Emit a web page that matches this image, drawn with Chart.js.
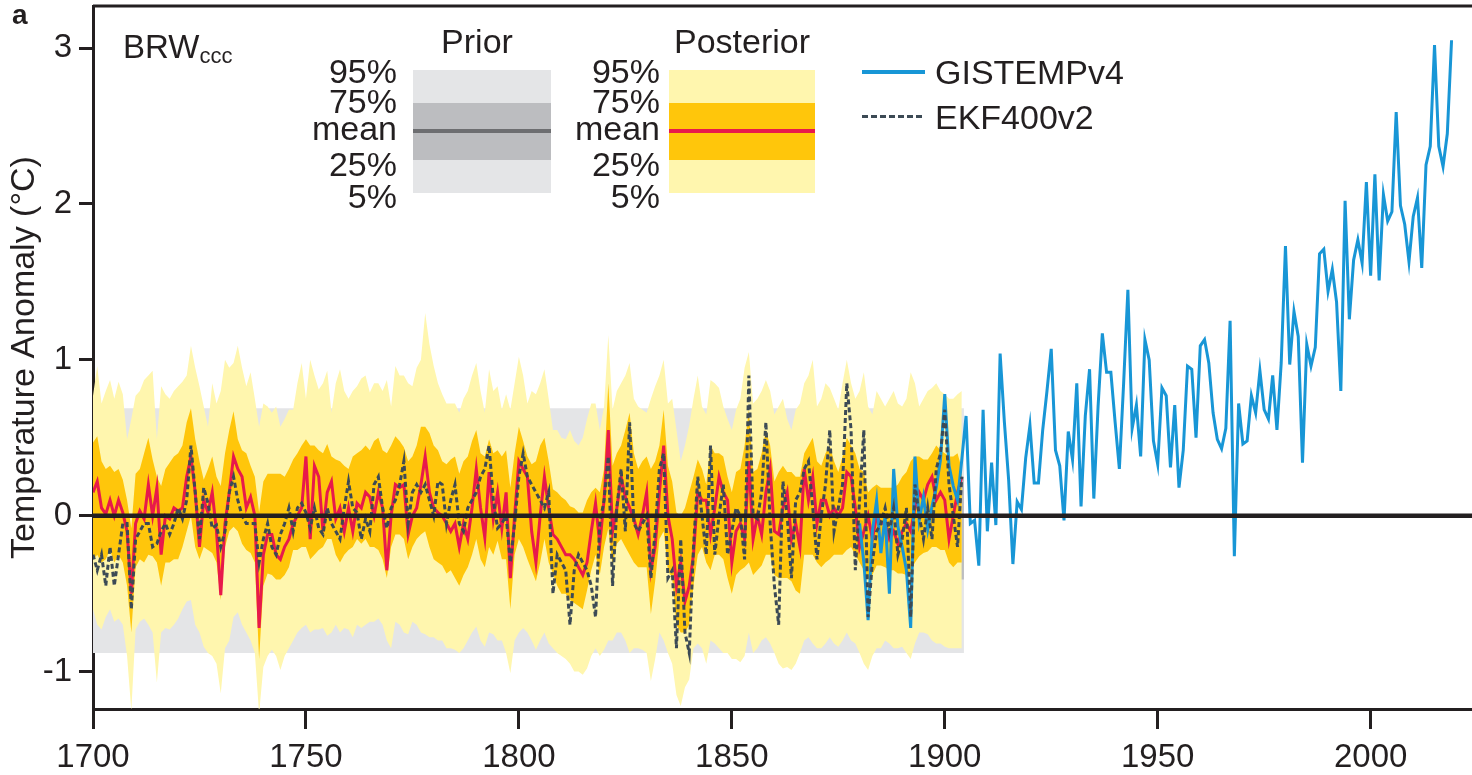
<!DOCTYPE html>
<html lang="en">
<head>
<meta charset="UTF-8">
<title>BRW temperature anomaly</title>
<script src="https://cdn.jsdelivr.net/npm/chart.js@4"></script>
<style>
    html, body { margin: 0; padding: 0; background: #fff; }
    #wrap { position: relative; width: 1472px; height: 775px; font-family: 'Liberation Sans', Arial, sans-serif; color: #231f20; }
    #chart { position: absolute; left: 0; top: 0; }
    .t { position: absolute; white-space: nowrap; line-height: 1; font-size: 34px; }
    .r { text-align: right; width: 100px; }
    .c { text-align: center; }
    .box { position: absolute; }
</style>
</head>
<body>
<div id="wrap">
    <canvas id="chart" width="1472" height="775"></canvas>

    <div class="t" style="left:12px; top:1px; font-size:28px; font-weight:bold;">a</div>
    <div class="t" style="left:123px; top:30px; font-size:33px;">BRW<span style="font-size:22px; vertical-align:-5px;">ccc</span></div>

    <!-- prior legend -->
    <div class="t c" style="left:427px; top:24px; width:100px;">Prior</div>
    <div class="box" style="left:413px; top:70px; width:138px; height:123px; background:#e4e5e7;"></div>
    <div class="box" style="left:413px; top:103px; width:138px; height:57px; background:#bcbdc0;"></div>
    <div class="box" style="left:413px; top:129px; width:138px; height:4px; background:#6d6e71;"></div>
    <div class="t r" style="left:297px; top:54px;">95%</div>
    <div class="t r" style="left:297px; top:84px;">75%</div>
    <div class="t r" style="left:297px; top:111px;">mean</div>
    <div class="t r" style="left:297px; top:147px;">25%</div>
    <div class="t r" style="left:297px; top:179px;">5%</div>

    <!-- posterior legend -->
    <div class="t c" style="left:667px; top:24px; width:150px;">Posterior</div>
    <div class="box" style="left:669px; top:70px; width:146px; height:123px; background:#fff6ae;"></div>
    <div class="box" style="left:669px; top:103px; width:146px; height:57px; background:#ffc60b;"></div>
    <div class="box" style="left:669px; top:129px; width:146px; height:4px; background:#e8194b;"></div>
    <div class="t r" style="left:560px; top:54px;">95%</div>
    <div class="t r" style="left:560px; top:84px;">75%</div>
    <div class="t r" style="left:560px; top:111px;">mean</div>
    <div class="t r" style="left:560px; top:147px;">25%</div>
    <div class="t r" style="left:560px; top:179px;">5%</div>

    <!-- series legend -->
    <div class="box" style="left:862px; top:70px; width:63px; height:4px; background:#1896d6;"></div>
    <div class="t" style="left:935px; top:55px;">GISTEMPv4</div>
    <div class="box" style="left:862px; top:115px; width:63px; height:3px; background:repeating-linear-gradient(to right, #3c4a55 0 6px, transparent 6px 9px);"></div>
    <div class="t" style="left:935px; top:100px;">EKF400v2</div>
</div>

<script>
// --- DATA ---
const POST_START = 1700;   // posterior / EKF400v2 first year
const GIS_START = 1880;    // GISTEMPv4 first year
const xTicks = [1700, 1750, 1800, 1850, 1900, 1950, 2000];
const yTicks = [-1, 0, 1, 2, 3];

// prior band (constant), years it spans
const priorYears = [1700, 1904.5];
const prior5 = -0.88, prior25 = -0.41, prior75 = 0.25, prior95 = 0.69;

const postMean = [
    0.15,0.22,0.05,0.01,0.10,0.00,0.10,0.02,-0.10,-0.50,
    -0.05,0.03,-0.02,0.20,0.00,0.18,-0.25,0.00,-0.02,0.05,
    0.03,0.05,0.25,0.38,0.15,-0.20,0.10,0.02,0.15,-0.10,
    -0.51,-0.05,0.15,0.38,0.30,0.25,0.05,0.12,0.00,-0.72,
    -0.25,-0.12,-0.12,-0.25,-0.28,-0.20,-0.15,-0.05,0.00,0.05,
    0.38,-0.15,0.32,0.25,-0.10,0.15,0.22,-0.02,0.05,-0.10,
    0.05,-0.10,0.08,0.05,0.15,0.12,0.00,0.15,0.05,-0.35,
    0.00,0.20,0.18,0.20,-0.12,0.00,0.05,0.20,0.38,0.15,
    0.05,0.02,0.00,-0.05,-0.10,-0.05,-0.20,-0.05,-0.15,0.05,
    0.30,0.05,-0.14,0.28,-0.02,0.15,-0.08,0.15,-0.40,0.00,
    0.35,0.30,0.25,-0.10,-0.30,0.00,0.25,0.05,-0.12,-0.15,
    -0.20,-0.25,-0.25,-0.28,-0.33,-0.38,-0.30,-0.10,0.08,-0.18,
    0.10,0.55,-0.10,0.05,0.25,0.12,0.05,-0.02,-0.12,0.00,
    0.15,-0.35,-0.20,0.15,0.45,0.00,-0.15,-0.45,-0.30,-0.55,
    -0.45,-0.25,0.15,0.10,0.10,-0.12,0.05,0.25,0.15,0.10,
    -0.30,-0.10,-0.05,-0.15,0.35,-0.15,0.00,-0.12,0.15,0.30,
    -0.10,-0.12,0.05,0.15,-0.15,-0.05,-0.20,0.30,0.10,0.25,
    -0.05,0.10,0.10,0.00,0.05,0.00,0.05,0.28,0.25,0.05,
    -0.20,-0.10,0.00,-0.15,0.00,-0.05,-0.05,-0.15,-0.10,-0.18,
    -0.10,-0.05,-0.10,0.05,0.15,0.10,0.20,0.25,0.10,0.15,
    0.10,-0.15,0.00,0.15,0.25
];

const post95 = [
    0.77,0.96,0.72,0.80,0.87,0.75,0.86,0.78,0.49,0.62,
    0.77,0.80,0.87,0.90,0.93,0.49,0.83,0.78,0.75,0.80,
    0.83,0.86,0.90,1.09,0.95,0.83,0.70,0.57,0.85,0.72,
    0.80,1.00,0.95,0.98,1.09,0.95,0.83,0.92,0.75,0.57,
    0.72,0.70,0.66,0.70,0.57,0.62,0.68,0.68,0.85,0.98,
    0.75,1.00,0.90,0.81,0.85,0.93,0.66,0.85,0.94,0.80,
    0.75,0.80,0.83,0.88,0.90,0.79,0.85,0.85,0.80,0.87,
    0.70,0.96,0.90,0.90,0.85,0.83,0.95,1.00,1.30,1.10,
    0.96,0.85,0.78,0.72,0.72,0.72,0.66,0.75,0.80,0.90,
    0.98,0.80,0.66,0.94,0.80,0.83,0.68,0.78,0.68,0.85,
    1.02,0.90,0.72,0.80,0.78,0.85,0.94,0.75,0.55,0.55,
    0.50,0.49,0.55,0.48,0.45,0.50,0.62,0.72,0.72,0.55,
    0.70,1.16,0.68,0.80,0.85,0.90,0.98,0.75,0.70,0.68,
    0.66,0.75,0.83,0.90,1.00,0.72,0.75,0.55,0.35,0.45,
    0.58,0.75,0.90,0.70,0.65,0.87,0.85,0.82,0.70,0.62,
    0.55,0.68,0.75,0.95,1.05,0.72,0.75,0.80,0.87,0.80,
    0.65,0.70,0.75,0.62,0.55,0.68,0.72,0.85,0.90,1.00,
    0.70,0.75,0.85,0.82,0.75,0.68,0.85,1.00,0.85,0.75,
    0.80,0.92,0.70,0.65,0.80,0.75,0.70,0.75,0.80,0.72,
    0.70,0.75,0.92,0.85,0.70,0.75,0.80,0.82,0.85,0.80,
    0.78,0.75,0.75,0.78,0.80
];

const post75 = [
    0.47,0.51,0.35,0.30,0.32,0.28,0.30,0.23,0.10,-0.08,
    0.27,0.30,0.40,0.50,0.36,0.25,0.19,0.30,0.34,0.38,
    0.40,0.45,0.60,0.69,0.49,0.35,0.23,0.30,0.38,0.25,
    0.19,0.40,0.55,0.67,0.49,0.42,0.40,0.32,0.25,0.02,
    0.22,0.27,0.27,0.27,0.27,0.25,0.30,0.36,0.40,0.45,
    0.49,0.45,0.45,0.42,0.40,0.46,0.38,0.36,0.35,0.32,
    0.30,0.38,0.40,0.42,0.45,0.42,0.48,0.50,0.42,0.40,
    0.45,0.51,0.48,0.44,0.35,0.38,0.45,0.57,0.57,0.53,
    0.45,0.42,0.35,0.33,0.36,0.38,0.27,0.35,0.38,0.48,
    0.55,0.40,0.38,0.49,0.40,0.42,0.38,0.42,0.18,0.40,
    0.57,0.48,0.38,0.33,0.35,0.45,0.50,0.35,0.17,0.15,
    0.12,0.10,0.06,0.05,0.02,0.02,0.10,0.15,0.18,0.15,
    0.30,0.85,0.32,0.40,0.45,0.55,0.66,0.40,0.30,0.35,
    0.38,0.30,0.35,0.45,0.68,0.32,0.22,0.02,0.00,0.05,
    0.15,0.25,0.36,0.30,0.20,0.45,0.40,0.40,0.38,0.25,
    0.15,0.28,0.30,0.45,0.68,0.28,0.30,0.40,0.55,0.45,
    0.22,0.28,0.32,0.28,0.28,0.25,0.25,0.40,0.45,0.50,
    0.35,0.32,0.40,0.45,0.35,0.28,0.38,0.50,0.45,0.40,
    0.30,0.28,0.15,0.18,0.20,0.18,0.18,0.18,0.18,0.20,
    0.25,0.28,0.35,0.38,0.38,0.36,0.36,0.40,0.45,0.42,
    0.40,0.38,0.38,0.40,0.30
];

const post25 = [
    -0.28,-0.25,-0.30,-0.28,-0.22,-0.30,-0.25,-0.30,-0.45,-0.75,
    -0.33,-0.28,-0.30,-0.25,-0.26,-0.30,-0.45,-0.30,-0.30,-0.28,
    -0.28,-0.20,-0.10,0.00,-0.20,-0.28,-0.20,-0.22,-0.24,-0.30,
    -0.54,-0.20,-0.10,-0.07,-0.10,-0.18,-0.22,-0.24,-0.30,-0.92,
    -0.45,-0.37,-0.38,-0.41,-0.41,-0.38,-0.33,-0.22,-0.22,-0.20,
    -0.20,-0.28,-0.25,-0.22,-0.20,-0.15,-0.15,-0.25,-0.30,-0.25,
    -0.22,-0.20,-0.15,-0.18,-0.15,-0.20,-0.20,-0.22,-0.28,-0.40,
    -0.20,-0.12,-0.12,-0.15,-0.28,-0.20,-0.15,-0.12,-0.10,-0.20,
    -0.28,-0.30,-0.32,-0.37,-0.35,-0.40,-0.45,-0.38,-0.33,-0.25,
    -0.15,-0.28,-0.33,-0.20,-0.25,-0.16,-0.28,-0.28,-0.60,-0.25,
    -0.15,-0.20,-0.28,-0.35,-0.42,-0.30,-0.15,-0.30,-0.37,-0.45,
    -0.50,-0.50,-0.54,-0.56,-0.58,-0.60,-0.48,-0.35,-0.25,-0.38,
    -0.20,-0.08,-0.32,-0.18,-0.15,-0.20,-0.25,-0.30,-0.33,-0.33,
    -0.33,-0.63,-0.42,-0.15,-0.10,-0.35,-0.40,-0.70,-0.75,-0.75,
    -0.70,-0.45,-0.25,-0.20,-0.30,-0.35,-0.25,-0.25,-0.28,-0.40,
    -0.50,-0.38,-0.35,-0.33,-0.30,-0.38,-0.35,-0.32,-0.25,-0.25,
    -0.38,-0.40,-0.40,-0.40,-0.42,-0.48,-0.50,-0.25,-0.25,-0.25,
    -0.30,-0.33,-0.30,-0.28,-0.25,-0.25,-0.25,-0.22,-0.20,-0.25,
    -0.30,-0.35,-0.40,-0.38,-0.32,-0.32,-0.33,-0.35,-0.35,-0.37,
    -0.37,-0.38,-0.35,-0.30,-0.26,-0.24,-0.23,-0.20,-0.20,-0.22,
    -0.22,-0.30,-0.33,-0.30,-0.30
];

const post5 = [
    -0.60,-0.70,-0.73,-0.65,-0.60,-0.68,-0.66,-0.70,-0.90,-1.25,
    -0.73,-0.68,-0.66,-0.70,-0.75,-1.07,-0.75,-0.72,-0.73,-0.70,
    -0.66,-0.60,-0.55,-0.54,-0.70,-0.75,-0.84,-0.88,-0.90,-0.95,
    -1.14,-0.85,-0.80,-0.65,-0.62,-0.70,-0.75,-0.80,-0.88,-1.27,
    -0.97,-0.90,-0.86,-0.90,-0.99,-0.90,-0.85,-0.80,-0.75,-0.72,
    -0.70,-0.75,-0.73,-0.73,-0.72,-0.77,-0.75,-0.70,-0.75,-0.72,
    -0.73,-0.78,-0.70,-0.72,-0.70,-0.68,-0.68,-0.66,-0.70,-0.80,
    -0.85,-0.68,-0.70,-0.75,-0.76,-0.68,-0.70,-0.75,-0.76,-0.78,
    -0.78,-0.80,-0.80,-0.85,-0.85,-0.86,-0.88,-0.85,-0.80,-0.75,
    -0.71,-0.80,-0.84,-0.75,-0.76,-0.80,-0.80,-0.88,-1.01,-0.80,
    -0.75,-0.72,-0.75,-0.80,-0.86,-0.80,-0.75,-0.82,-0.85,-0.88,
    -0.90,-0.92,-0.95,-1.00,-1.00,-1.02,-0.98,-0.90,-0.85,-0.90,
    -0.86,-0.80,-0.80,-0.75,-0.75,-0.80,-0.88,-0.85,-0.85,-0.86,
    -0.88,-1.06,-0.92,-0.75,-0.80,-0.88,-0.95,-1.15,-1.22,-1.10,
    -1.05,-0.85,-0.82,-0.85,-0.95,-0.80,-0.82,-0.85,-0.88,-0.88,
    -0.92,-0.92,-0.94,-0.90,-0.75,-0.88,-0.85,-0.80,-0.78,-0.82,
    -0.88,-0.95,-0.98,-0.97,-0.99,-0.95,-0.88,-0.80,-0.78,-0.82,
    -0.85,-0.85,-0.82,-0.78,-0.82,-0.84,-0.80,-0.75,-0.80,-0.82,
    -0.88,-0.95,-0.99,-0.90,-0.85,-0.85,-0.80,-0.82,-0.85,-0.85,
    -0.84,-0.88,-0.92,-0.82,-0.75,-0.75,-0.76,-0.80,-0.82,-0.82,
    -0.84,-0.85,-0.85,-0.85,-0.85
];

const ekf400 = [
    -0.25,-0.35,-0.25,-0.45,-0.20,-0.45,-0.25,-0.05,-0.05,-0.60,
    -0.15,-0.10,-0.05,-0.05,-0.20,-0.18,-0.10,-0.05,-0.12,-0.05,
    0.05,-0.02,0.10,0.45,0.15,-0.15,0.18,0.08,-0.08,-0.06,
    -0.20,-0.10,0.15,0.25,0.10,0.00,-0.05,-0.05,-0.05,-0.30,
    -0.15,-0.05,-0.20,-0.25,-0.12,-0.05,0.05,-0.10,0.05,0.08,
    0.02,-0.08,0.05,-0.08,-0.12,0.05,-0.05,-0.10,-0.15,0.05,
    0.22,0.05,0.02,-0.15,-0.02,-0.10,0.20,0.25,0.05,-0.08,
    0.05,0.10,0.20,0.35,-0.05,0.15,0.20,0.15,0.20,0.10,
    0.00,0.22,0.20,-0.05,0.10,0.20,-0.05,-0.10,0.05,0.10,
    0.15,0.25,0.30,0.45,0.10,-0.08,-0.05,0.00,-0.30,-0.05,
    0.25,0.40,0.25,0.20,0.15,0.10,0.05,0.15,-0.50,-0.25,
    -0.30,-0.35,-0.70,-0.35,-0.25,-0.30,-0.35,-0.45,-0.65,-0.05,
    0.10,0.38,-0.45,0.05,0.30,-0.10,0.60,-0.05,-0.10,-0.05,
    0.00,-0.40,-0.10,0.30,0.40,-0.40,-0.35,-0.85,-0.15,-0.75,
    -0.88,-0.20,0.25,0.00,-0.25,0.45,-0.25,0.00,0.20,-0.25,
    -0.10,0.05,0.00,-0.28,0.90,0.00,-0.02,0.15,0.60,-0.05,
    -0.45,-0.70,0.22,0.00,-0.40,0.10,0.15,0.30,0.35,0.05,
    -0.28,0.00,0.20,0.55,-0.10,0.05,0.20,0.85,0.55,-0.35,
    0.10,0.55,-0.65,-0.30,-0.10,-0.05,0.05,-0.10,0.05,-0.25,
    -0.15,0.05,-0.65,0.20,0.00,-0.15,0.05,-0.15,0.30,0.40,
    0.68,0.20,0.00,-0.20,0.25
];

const gistemp = [
    -0.05,-0.30,-0.67,-0.10,0.10,-0.24,0.00,-0.50,0.30,-0.07,
    -0.20,-0.35,-0.72,0.38,-0.03,0.12,-0.09,0.06,0.18,0.36,
    0.78,0.32,0.19,0.10,0.36,0.64,-0.05,-0.03,-0.32,0.68,
    -0.10,0.34,-0.06,1.04,0.60,0.23,-0.31,0.09,0.04,0.37,
    0.58,0.21,0.21,0.55,0.80,1.07,0.42,0.32,-0.03,0.54,
    0.36,0.85,0.06,0.64,0.94,0.11,0.70,1.17,0.92,0.92,
    0.60,0.30,0.85,1.45,0.56,0.71,0.38,1.13,1.00,0.48,
    0.33,0.82,0.77,0.31,0.71,0.18,0.42,0.96,0.94,0.50,
    1.09,1.13,0.98,0.66,0.49,0.43,0.56,1.25,-0.26,0.72,
    0.46,0.48,0.77,0.66,0.93,0.68,0.62,0.90,0.55,0.98,
    1.73,0.97,1.31,1.15,0.34,1.10,0.96,1.08,1.68,1.71,
    1.44,1.58,1.37,0.80,2.02,1.26,1.64,1.77,1.62,2.14,
    1.54,2.19,1.51,2.06,1.89,1.95,2.59,1.99,1.87,1.63,
    1.92,2.04,1.59,2.25,2.37,3.02,2.37,2.24,2.45,3.05
];

// --- HELPERS ---
function toXY(values, startYear) {
    return values.map((v, i) => ({ x: startYear + i, y: v }));
}
function flat(value) {
    return priorYears.map(yr => ({ x: yr, y: value }));
}
function area(data, fill, bg, order) {
    return { data, fill, backgroundColor: bg, borderWidth: 0, pointRadius: 0, order };
}

const INK = '#231f20';
Chart.defaults.font.family = "'Liberation Sans', Arial, sans-serif";
Chart.defaults.color = INK;

// zero line and top frame, drawn over the data
const framePlugin = {
    id: 'frame',
    afterDatasetsDraw(chart) {
        const { ctx, chartArea: a, scales: { y } } = chart;
        const y0 = y.getPixelForValue(0);
        ctx.save();
        ctx.strokeStyle = INK;
        ctx.lineWidth = 4.5;
        ctx.beginPath(); ctx.moveTo(a.left, y0); ctx.lineTo(a.right, y0); ctx.stroke();
        ctx.lineWidth = 3;
        ctx.beginPath(); ctx.moveTo(a.left, a.top); ctx.lineTo(a.right, a.top); ctx.stroke();
        ctx.restore();
    }
};

new Chart(document.getElementById('chart'), {
    type: 'line',
    data: {
        datasets: [
            area(flat(prior5), false, 'transparent', 20),                     // 0
            area(flat(prior95), 0, '#e4e5e7', 19),                            // 1
            area(flat(prior25), false, 'transparent', 18),                    // 2
            area(flat(prior75), 2, '#bcbdc0', 17),                            // 3
            area(toXY(post5, POST_START), false, 'transparent', 16),          // 4
            area(toXY(post95, POST_START), 4, '#fff6ae', 15),                 // 5
            area(toXY(post25, POST_START), false, 'transparent', 14),         // 6
            area(toXY(post75, POST_START), 6, '#ffc60b', 13),                 // 7
            { label: 'Posterior mean', data: toXY(postMean, POST_START), borderColor: '#e8194b',
              borderWidth: 3, pointRadius: 0, fill: false, order: 12 },
            { label: 'GISTEMPv4', data: toXY(gistemp, GIS_START), borderColor: '#1896d6',
              borderWidth: 3, pointRadius: 0, fill: false, order: 11 },
            { label: 'EKF400v2', data: toXY(ekf400, POST_START), borderColor: '#3c4a55',
              borderWidth: 3, borderDash: [5, 3], pointRadius: 0, fill: false, order: 10 }
        ]
    },
    options: {
        responsive: false,
        animation: false,
        devicePixelRatio: 1,
        layout: { padding: { top: 6, right: 0, left: 0, bottom: 0 } },
        elements: { line: { tension: 0 } },
        plugins: { legend: { display: false }, tooltip: { enabled: false } },
        scales: {
            x: {
                type: 'linear', min: 1700, max: 2023.8, z: 1,
                border: { color: INK, width: 3 },
                grid: { drawOnChartArea: false, drawTicks: true, tickLength: 20, color: INK, lineWidth: 3 },
                ticks: { font: { size: 33 }, color: INK, padding: 9, maxRotation: 0, callback: v => String(v) },
                afterBuildTicks: s => { s.ticks = xTicks.map(v => ({ value: v })); },
                afterFit: s => { s.height = 66; s.paddingRight = 0; }
            },
            y: {
                type: 'linear', min: -1.24, max: 3.27, z: 1,
                border: { color: INK, width: 3 },
                grid: { drawOnChartArea: false, drawTicks: true, tickLength: 14, color: INK, lineWidth: 3 },
                ticks: { font: { size: 33 }, color: INK, padding: 7, callback: v => String(v) },
                afterBuildTicks: s => { s.ticks = yTicks.map(v => ({ value: v })); },
                afterFit: s => { s.width = 93; s.paddingTop = 0; s.paddingBottom = 0; },
                title: { display: true, text: 'Temperature Anomaly (°C)', font: { size: 34 }, color: INK,
                         padding: { top: 4, bottom: 0 } }
            }
        }
    },
    plugins: [framePlugin]
});
</script>
</body>
</html>
